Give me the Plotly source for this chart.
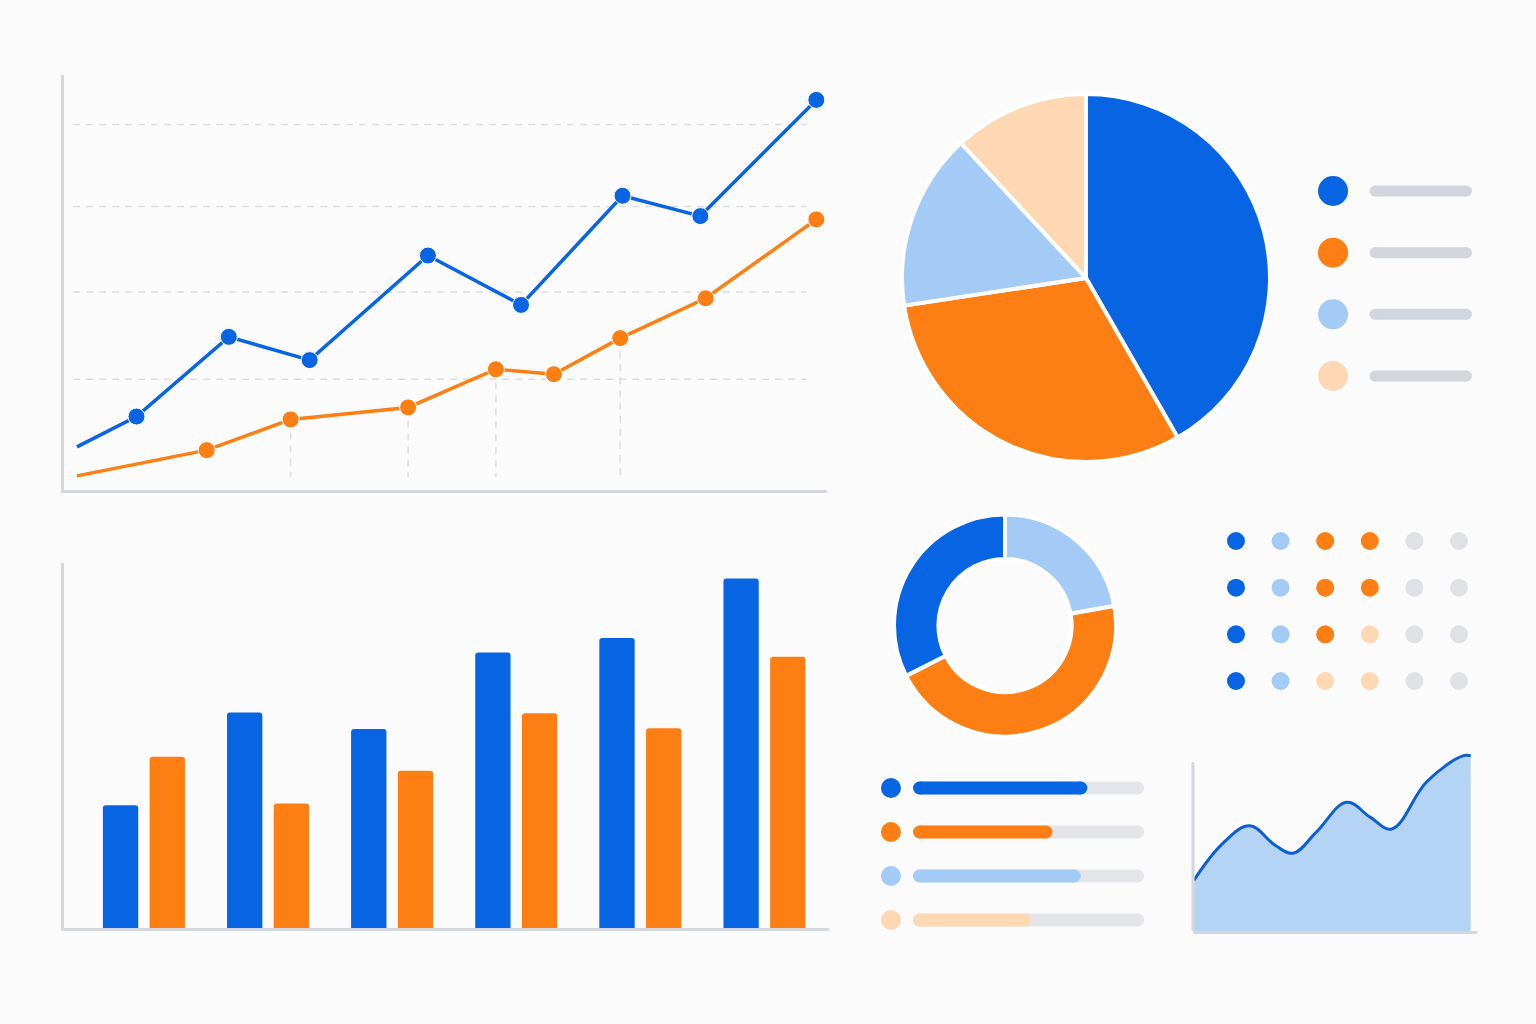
import plotly.graph_objects as go

W, H = 1536, 1024

# ---------------- data ----------------
# line chart (two series)
line_x_blue = [1.7, 9.5, 21.6, 32.2, 47.7, 59.9, 73.2, 83.4, 98.6]
line_y_blue = [10.4, 17.7, 36.9, 31.3, 56.5, 44.6, 70.9, 66.0, 94.0]
line_x_orange = [1.7, 18.7, 29.7, 45.1, 56.6, 64.2, 72.9, 84.1, 98.6]
line_y_orange = [3.4, 9.6, 17.0, 19.9, 29.1, 27.9, 36.6, 46.2, 65.2]
line_grid_levels = [26.7, 47.7, 68.3, 88.1]
line_drop_idx = [2, 3, 4, 6]

# grouped bars
bar_categories = ["A", "B", "C", "D", "E", "F"]
bar_blue = [35.1, 61.6, 56.9, 78.7, 82.9, 99.9]
bar_orange = [48.9, 35.6, 44.9, 61.4, 57.1, 77.5]

# pie
pie_labels = ["Blue", "Orange", "Light blue", "Peach"]
pie_values = [41.7, 30.9, 15.5, 11.9]

# donut
donut_labels = ["Light blue", "Orange", "Blue"]
donut_values = [22.2, 45.3, 32.5]

# dot matrix (colour keys)
dot_rows = [
    ["B", "L", "O", "O", "G", "G"],
    ["B", "L", "O", "O", "G", "G"],
    ["B", "L", "O", "P", "G", "G"],
    ["B", "L", "P", "P", "G", "G"],
]

# progress bars
progress_keys = ["B", "O", "L", "P"]
progress_values = [74, 58, 71, 48]

# area chart (wave: extrema and mid-slope points)
area_x = [0.35, 10.5, 20.0, 28.8, 35.2, 43.5, 54.1, 62.5, 70.0, 82.3, 95.0, 97.8]
area_y = [33.4, 57.5, 69.0, 56.4, 51.0, 65.0, 84.4, 74.5, 66.9, 97.9, 114.8, 114.8]

# ---------------- styles ----------------
BG = "#fbfbfb"
BLUE = "#0765e3"
ORANGE = "#fd7f14"
LIGHT = "#a4cbf6"
PEACH = "#fdd8b2"
GRAY_DOT = "#dfe1e5"
GRAY_BAR = "#d2d6dc"
TRACK = "#e3e5e8"
AXIS = "#d4d8de"
GRID = "#dadde1"
AREA_FILL = "#b5d3f5"
AREA_LINE = "#0c5fd2"
KEY = {"B": BLUE, "O": ORANGE, "L": LIGHT, "P": PEACH, "G": GRAY_DOT}


def dx(a, b):
    return [a / W, b / W]


def dy(top, bottom):
    return [1 - bottom / H, 1 - top / H]


fig = go.Figure()

# ---- line chart (x, y) ----
for xs, ys, col in [(line_x_blue, line_y_blue, BLUE), (line_x_orange, line_y_orange, ORANGE)]:
    fig.add_trace(go.Scatter(
        x=xs, y=ys, mode="lines+markers", xaxis="x", yaxis="y",
        line=dict(color=col, width=3.5),
        marker=dict(size=[0] + [17] * (len(xs) - 1), color=col, opacity=1),
        hoverinfo="skip", showlegend=False))

shapes = []
for lv in line_grid_levels:
    shapes.append(dict(type="line", xref="x", yref="y", x0=1.2, x1=97.3, y0=lv, y1=lv,
                       line=dict(color=GRID, width=1.5, dash="7px,6px"), layer="below"))
for i in line_drop_idx:
    shapes.append(dict(type="line", xref="x", yref="y", x0=line_x_orange[i], x1=line_x_orange[i],
                       y0=line_y_orange[i], y1=3.1,
                       line=dict(color=GRID, width=1.5, dash="7px,6px"), layer="below"))

# ---- grouped bars (x2, y2) ----
for vals, col in [(bar_blue, BLUE), (bar_orange, ORANGE)]:
    fig.add_trace(go.Bar(x=bar_categories, y=vals, xaxis="x2", yaxis="y2",
                         marker=dict(color=col, line=dict(width=0), cornerradius=3),
                         hoverinfo="skip", showlegend=False))

# ---- pie ----
fig.add_trace(go.Pie(labels=pie_labels, values=pie_values, sort=False, direction="clockwise",
                     rotation=0, textinfo="none", hoverinfo="skip", showlegend=False,
                     marker=dict(colors=[BLUE, ORANGE, LIGHT, PEACH], line=dict(color="#ffffff", width=4)),
                     domain=dict(x=dx(902, 1270), y=dy(93, 463))))

# pie legend (x3, y3)
fig.add_trace(go.Scatter(x=[0] * 4, y=list(range(4)), mode="markers", xaxis="x3", yaxis="y3",
                         marker=dict(size=30, color=[BLUE, ORANGE, LIGHT, PEACH], opacity=1),
                         hoverinfo="skip", showlegend=False))
for i in range(4):
    fig.add_trace(go.Scatter(x=[1.4, 4.45], y=[i, i], mode="lines+markers", xaxis="x3", yaxis="y3",
                             line=dict(color=GRAY_BAR, width=11), marker=dict(size=11, color=GRAY_BAR),
                             hoverinfo="skip", showlegend=False))

# ---- donut ----
fig.add_trace(go.Pie(labels=donut_labels, values=donut_values, sort=False, direction="clockwise",
                     rotation=0, hole=0.6, textinfo="none", hoverinfo="skip", showlegend=False,
                     marker=dict(colors=[LIGHT, ORANGE, BLUE], line=dict(color="#ffffff", width=4)),
                     domain=dict(x=dx(894, 1116), y=dy(514, 737))))

# ---- dot matrix (x4, y4) ----
dxs, dys, dcs = [], [], []
for r, row in enumerate(dot_rows):
    for c, k in enumerate(row):
        dxs.append(c)
        dys.append(r)
        dcs.append(KEY[k])
fig.add_trace(go.Scatter(x=dxs, y=dys, mode="markers", xaxis="x4", yaxis="y4",
                         marker=dict(size=18, color=dcs, opacity=1), hoverinfo="skip", showlegend=False))

# ---- progress bars (x5, y5) ----
for i, (k, v) in enumerate(zip(progress_keys, progress_values)):
    fig.add_trace(go.Scatter(x=[0, 100], y=[i, i], mode="lines+markers", xaxis="x5", yaxis="y5",
                             line=dict(color=TRACK, width=13), marker=dict(size=13, color=TRACK),
                             hoverinfo="skip", showlegend=False))
    fig.add_trace(go.Scatter(x=[0, v], y=[i, i], mode="lines+markers", xaxis="x5", yaxis="y5",
                             line=dict(color=KEY[k], width=13), marker=dict(size=13, color=KEY[k]),
                             hoverinfo="skip", showlegend=False))
fig.add_trace(go.Scatter(x=[-13.1] * 4, y=list(range(4)), mode="markers", xaxis="x5", yaxis="y5",
                         marker=dict(size=20, color=[KEY[k] for k in progress_keys], opacity=1),
                         hoverinfo="skip", showlegend=False))

# ---- area chart (x6, y6) ----
fig.add_trace(go.Scatter(x=area_x, y=area_y, mode="lines", xaxis="x6", yaxis="y6",
                         line=dict(color=AREA_LINE, width=3, shape="spline", smoothing=1.1),
                         fill="tozeroy", fillcolor=AREA_FILL, hoverinfo="skip", showlegend=False))
shapes.append(dict(type="line", xref="x6 domain", yref="y6 domain", x0=0, x1=0, y0=0, y1=0.923,
                   line=dict(color=AXIS, width=3)))

hidden = dict(visible=False, showgrid=False, zeroline=False, fixedrange=True)
shown = dict(showgrid=False, zeroline=False, showticklabels=False, ticks="", fixedrange=True,
             showline=True, linecolor=AXIS, linewidth=3)

fig.update_layout(
    width=W, height=H, autosize=False,
    margin=dict(l=0, r=0, t=0, b=0),
    paper_bgcolor=BG, plot_bgcolor=BG,
    barmode="group", bargap=0.247, bargroupgap=0.244,
    shapes=shapes,
    xaxis=dict(domain=dx(64, 827), range=[0, 100], anchor="y", **shown),
    yaxis=dict(domain=dy(75, 490), range=[0, 100], anchor="x", **shown),
    xaxis2=dict(domain=dx(64, 829), range=[-0.644, 5.52], anchor="y2", type="category", **shown),
    yaxis2=dict(domain=dy(563, 928), range=[0, 104.3], anchor="x2", **shown),
    xaxis3=dict(domain=dx(1310, 1480), range=[-0.767, 4.9], anchor="y3", **hidden),
    yaxis3=dict(domain=dy(160, 407), range=[3.503, -0.503], anchor="x3", **hidden),
    xaxis4=dict(domain=dx(1214, 1481), range=[-0.493, 5.493], anchor="y4", **hidden),
    yaxis4=dict(domain=dy(518, 704), range=[3.493, -0.493], anchor="x4", **hidden),
    xaxis5=dict(domain=dx(870, 1150), range=[-22.7, 105.7], anchor="y5", **hidden),
    yaxis5=dict(domain=dy(770, 938), range=[3.409, -0.409], anchor="x5", **hidden),
    xaxis6=dict(domain=dx(1193, 1477), range=[0, 100], anchor="y6", **shown),
    yaxis6=dict(domain=dy(748, 931), range=[0, 120], anchor="x6", **hidden),
)

fig.write_html("out.html", config={"displayModeBar": False, "staticPlot": True},
               post_script="document.body.style.margin='0';document.body.style.background='%s';" % BG)
